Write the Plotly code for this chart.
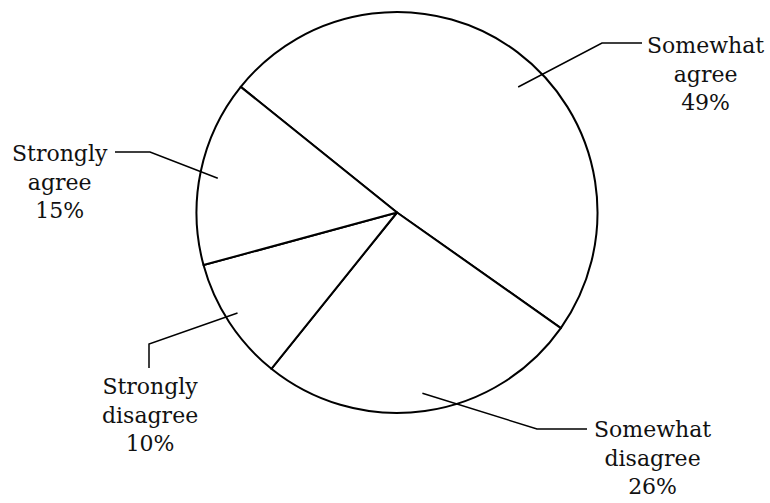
import math
import plotly.graph_objects as go

# ---- data ----
categories = ["Somewhat agree", "Somewhat disagree", "Strongly disagree", "Strongly agree"]
values = [49, 26, 10, 15]
label_lines = [["Somewhat", "agree"], ["Somewhat", "disagree"], ["Strongly", "disagree"], ["Strongly", "agree"]]

# ---- layout constants (pixels) ----
W, H = 770, 503
CX, CY, R = 397, 212.5, 200.5
ROTATION = 308.8  # compass degrees where first slice starts (clockwise)
FONT = dict(family="DejaVu Serif", size=22, color="#111111")

# label block centers and leader elbows/ends (pixels)
label_pos = [(705, 74), (652, 458), (150, 415), (60, 182)]
elbows = [[(602, 43), (642, 43)], [(537, 429), (587, 429)], [(149, 344), (149, 368)], [(150, 152), (115, 152)]]
leader_r = [0.87, 0.91, 0.94, 0.91]
leader_da = [7, 0, 1, -1]  # small angular nudges of leader start (degrees)

def px(x, y):
    return x / W, 1 - y / H

fig = go.Figure()
fig.add_trace(go.Pie(
    labels=categories, values=values, sort=False, direction="clockwise",
    rotation=ROTATION, textinfo="none", hoverinfo="label+percent",
    marker=dict(colors=["white"] * len(values), line=dict(color="black", width=2)),
    domain=dict(x=[(CX - R) / W, (CX + R) / W], y=[1 - (CY + R) / H, 1 - (CY - R) / H]),
    showlegend=False,
))

total = sum(values)
cum = 0
shapes = []
annotations = []
for i, v in enumerate(values):
    mid = ROTATION + (cum + v / 2) / total * 360 + leader_da[i]
    cum += v
    a = math.radians(mid)
    sx = CX + leader_r[i] * R * math.sin(a)
    sy = CY - leader_r[i] * R * math.cos(a)
    pts = [(sx, sy)] + elbows[i]
    path = "M " + " L ".join(f"{px(x, y)[0]},{px(x, y)[1]}" for x, y in pts)
    shapes.append(dict(type="path", path=path, xref="paper", yref="paper",
                       line=dict(color="black", width=1.5)))
    lx, ly = px(*label_pos[i])
    annotations.append(dict(
        text="<br>".join(label_lines[i] + [f"{v}%"]),
        x=lx, y=ly, xref="paper", yref="paper", xanchor="center", yanchor="middle",
        align="center", showarrow=False, font=FONT,
    ))

fig.update_layout(
    width=W, height=H, margin=dict(l=0, r=0, t=0, b=0),
    paper_bgcolor="white", plot_bgcolor="white",
    shapes=shapes, annotations=annotations,
)
fig.write_html("out.html", config={"displayModeBar": False},
               post_script="document.body.style.margin='0px';document.body.style.overflow='hidden';")
